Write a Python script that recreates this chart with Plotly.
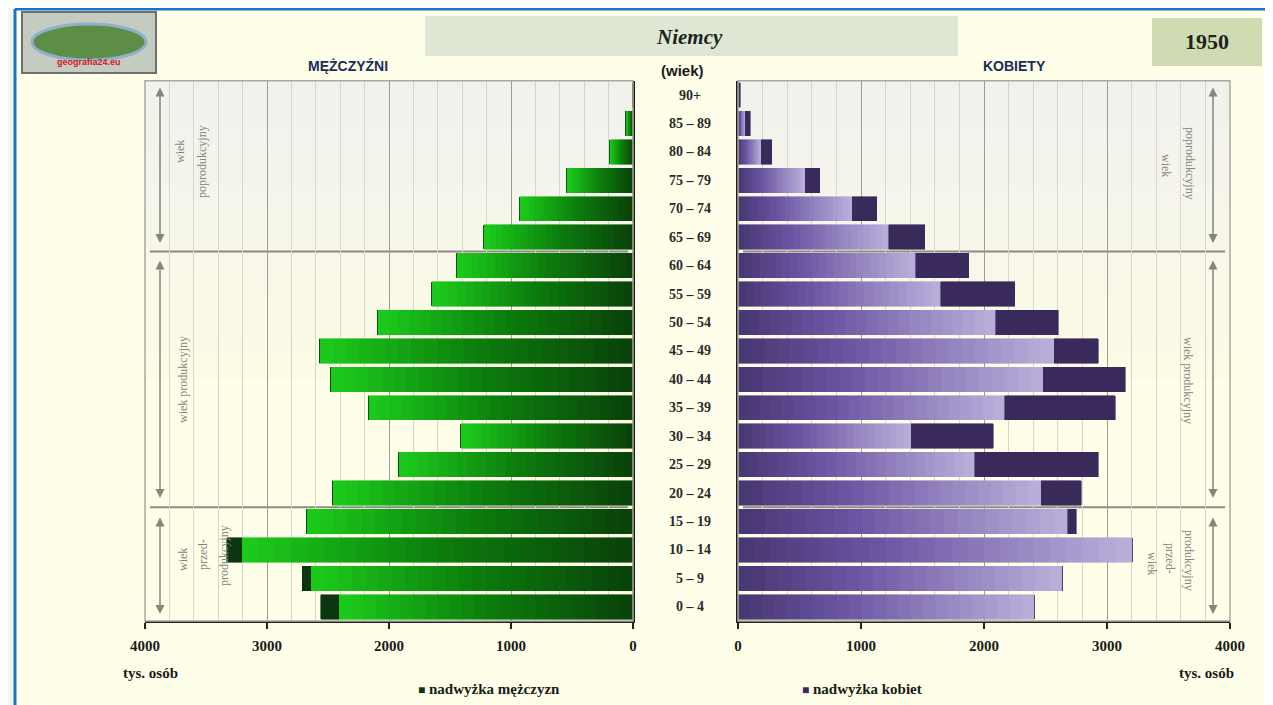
import plotly.graph_objects as go

# --- Data (thousands of people) ---
AGE_GROUPS = ['0 – 4', '5 – 9', '10 – 14', '15 – 19', '20 – 24', '25 – 29', '30 – 34',
              '35 – 39', '40 – 44', '45 – 49', '50 – 54', '55 – 59', '60 – 64', '65 – 69',
              '70 – 74', '75 – 79', '80 – 84', '85 – 89', '90+']
MALES = [2560, 2710, 3330, 2680, 2465, 1925, 1410, 2170, 2480, 2570, 2095, 1650, 1445, 1225,
         930, 545, 190, 60, 8]
FEMALES = [2410, 2640, 3205, 2750, 2790, 2930, 2075, 3065, 3150, 2930, 2605, 2250, 1875, 1520,
           1130, 665, 275, 100, 20]
X_TICKS = [0, 1000, 2000, 3000, 4000]

# the page body keeps an 8px margin, so everything is shifted back by 8px
OFF_X, OFF_Y = 8, 8
W, H = 1273, 705
SERIF = 'Liberation Serif, DejaVu Serif, serif'
SANS = 'Liberation Sans Narrow, Liberation Sans, Arial, sans-serif'


def px(x):
    return (x - OFF_X) / W


def py(y):
    return 1 - (y - OFF_Y) / H


def hex_to_rgb(c):
    c = c.lstrip('#')
    return [int(c[i:i + 2], 16) for i in (0, 2, 4)]


def gradient(stops, t):
    """stops: list of (pos, hex) -> interpolated hex colour at t"""
    for (p0, c0), (p1, c1) in zip(stops[:-1], stops[1:]):
        if p0 <= t <= p1:
            f = (t - p0) / (p1 - p0)
            a, b = hex_to_rgb(c0), hex_to_rgb(c1)
            return '#%02x%02x%02x' % tuple(round(a[i] + (b[i] - a[i]) * f) for i in range(3))
    return stops[-1][1]


def generate_plot():
    rows = list(range(len(AGE_GROUPS)))
    common = [min(m, f) for m, f in zip(MALES, FEMALES)]
    male_surplus = [max(m - f, 0) for m, f in zip(MALES, FEMALES)]
    female_surplus = [max(f - m, 0) for m, f in zip(MALES, FEMALES)]

    male_stops = [(0, '#0a400a'), (0.5, '#0c7e0c'), (1, '#1ccc1c')]
    female_stops = [(0, '#473670'), (0.35, '#6a54a2'), (1, '#bbb0da')]
    n_seg = 24

    fig = go.Figure()

    # --- gradient bars: split the common part into thin stacked slices ---
    for k in range(n_seg):
        t = (k + 0.5) / n_seg
        cm = gradient(male_stops, t)
        cf = gradient(female_stops, t)
        fig.add_trace(go.Bar(
            y=rows, x=[v / n_seg for v in common], orientation='h',
            marker=dict(color=cm, line=dict(color=cm, width=0.6)),
            xaxis='x', yaxis='y', showlegend=False, hoverinfo='skip'))
        fig.add_trace(go.Bar(
            y=rows, x=[v / n_seg for v in common], orientation='h',
            marker=dict(color=cf, line=dict(color=cf, width=0.6)),
            xaxis='x2', yaxis='y2', showlegend=False, hoverinfo='skip'))

    fig.add_trace(go.Bar(
        y=rows, x=male_surplus, orientation='h', name='nadwyżka mężczyzn',
        marker=dict(color='#0b3610', line=dict(color='#0b3610', width=0.6)),
        xaxis='x', yaxis='y', showlegend=False))
    fig.add_trace(go.Bar(
        y=rows, x=female_surplus, orientation='h', name='nadwyżka kobiet',
        marker=dict(color='#3a2a5c', line=dict(color='#3a2a5c', width=0.6)),
        xaxis='x2', yaxis='y2', showlegend=False))

    # --- axes ---
    y_dom = [py(621), py(80.8)]
    xa = dict(
        tickvals=X_TICKS, ticks='outside', ticklen=6, tickwidth=1.5, tickcolor='#222',
        showline=True, linecolor='#222', linewidth=2,
        showgrid=True, gridcolor='#9c9c92', gridwidth=1,
        minor=dict(dtick=200, showgrid=True, gridcolor='#d6d6ca', gridwidth=1, ticks=''),
        tickfont=dict(family=SERIF, size=15, color='#1a1a1a', weight='bold'),
        ticklabelstandoff=4, zeroline=False, fixedrange=True)
    ya = dict(range=[-0.5, len(AGE_GROUPS) - 0.5], domain=y_dom, showticklabels=False,
              ticks='', showgrid=False, zeroline=False, showline=True,
              linecolor='#1a1a1a', linewidth=2)

    fig.update_layout(
        width=W, height=H,
        margin=dict(l=0, r=0, t=0, b=0, autoexpand=False),
        paper_bgcolor='#f4f4f1',
        plot_bgcolor='#fcfbe6',
        barmode='stack', bargap=0.14,
        showlegend=False,
        xaxis=dict(xa, domain=[px(145), px(633)], range=[4000, 0], anchor='y'),
        yaxis=dict(ya, anchor='x', side='right'),
        xaxis2=dict(xa, domain=[px(738), px(1230)], range=[0, 4000], anchor='y2'),
        yaxis2=dict(ya, anchor='x2', side='left'),
    )

    shapes = []
    # page frame and cream background
    shapes.append(dict(type='rect', xref='paper', yref='paper', x0=px(15), x1=px(1268),
                       y0=py(720), y1=py(9), fillcolor='#fefee9', line_width=0, layer='below'))
    blue = '#1a72c8'
    for x0, y0, x1, y1 in [(15, 9, 15, 720), (15, 9, 1268, 9),
                           (1268, 9, 1268, 720)]:
        shapes.append(dict(type='line', xref='paper', yref='paper', x0=px(x0), x1=px(x1),
                           y0=py(y0), y1=py(y1), line=dict(color=blue, width=3)))

    # panel background: soft grey at the top fading into cream
    n_band = 14
    for ax in ['', '2']:
        for i in range(n_band):
            c = gradient([(0, '#f1f1ee'), (1, '#fcfbe6')], i / (n_band - 1))
            top = 1 - i * 0.55 / n_band
            shapes.append(dict(type='rect', xref='x%s domain' % ax, yref='y%s domain' % ax,
                               x0=0, x1=1, y0=top - 0.55 / n_band - 0.002, y1=top,
                               fillcolor=c, line_width=0, layer='below'))
        # dividers between age classes (under the bars)
        for yv in [3.5, 12.5]:
            shapes.append(dict(type='line', xref='x%s domain' % ax, yref='y%s' % ax,
                               x0=0.01, x1=0.99, y0=yv, y1=yv,
                               line=dict(color='#8c8c82', width=2), layer='below'))
        # outer grey panel border
        shapes.append(dict(type='rect', xref='x%s domain' % ax, yref='y%s domain' % ax,
                           x0=0, x1=1, y0=0, y1=1, line=dict(color='#a9a99c', width=1.5),
                           layer='above'))

    # title boxes
    shapes.append(dict(type='rect', xref='paper', yref='paper', x0=px(425), x1=px(958),
                       y0=py(56), y1=py(16), fillcolor='#dde7d3', line_width=0))
    shapes.append(dict(type='rect', xref='paper', yref='paper', x0=px(1152), x1=px(1262),
                       y0=py(66), y1=py(18), fillcolor='#cfdcb1', line_width=0))
    # logo
    shapes.append(dict(type='rect', xref='paper', yref='paper', x0=px(22), x1=px(156),
                       y0=py(73), y1=py(12), fillcolor='#c4ccc2',
                       line=dict(color='#6e6e6e', width=2)))
    shapes.append(dict(type='circle', xref='paper', yref='paper', x0=px(32), x1=px(146),
                       y0=py(60), y1=py(24), fillcolor='#5c8f45',
                       line=dict(color='#8fb0c8', width=3)))
    fig.update_layout(shapes=shapes)

    # --- texts ---
    ann = []

    def text(x, y, s, size=14, family=SANS, color='#1a1a1a', angle=0, yref='paper'):
        ann.append(dict(x=px(x), y=py(y) if yref == 'paper' else y, xref='paper', yref=yref,
                        text=s, showarrow=False, textangle=angle,
                        xanchor='center', yanchor='middle',
                        font=dict(family=family, size=size, color=color)))

    for i, lab in enumerate(AGE_GROUPS):
        text(690, i, '<b>%s</b>' % lab, size=14, family=SERIF, color='#2a2a2a', yref='y')

    text(690, 37, '<b><i>Niemcy</i></b>', size=21, family=SERIF, color='#222')
    text(1207, 42, '<b>1950</b>', size=22, family=SERIF, color='#222')
    text(348, 66, '<b>MĘŻCZYŹNI</b>', size=14, color='#1c2c5c')
    text(1014, 66, '<b>KOBIETY</b>', size=14, color='#1c2c5c')
    text(682, 70, '<b>(wiek)</b>', size=15, color='#1a1a1a')
    text(150, 673, '<b>tys. osób</b>', size=15, family=SERIF)
    text(1206, 673, '<b>tys. osób</b>', size=15, family=SERIF)
    text(489, 689, '<b><span style="color:#0b3610;font-size:12px">■</span> nadwyżka mężczyzn</b>',
         size=15, family=SERIF)
    text(862, 689, '<b><span style="color:#3a2a5c;font-size:12px">■</span> nadwyżka kobiet</b>',
         size=15, family=SERIF)
    text(89, 62, '<b>geografia24.eu</b>', size=9, color='#d42020')

    grey = '#85857c'
    # left side age-class descriptions (bottom-to-top)
    text(180, 152, 'wiek', size=12, family=SERIF, color=grey, angle=-90)
    text(202, 162, 'poprodukcyjny', size=12, family=SERIF, color=grey, angle=-90)
    text(183, 380, 'wiek produkcyjny', size=12, family=SERIF, color=grey, angle=-90)
    text(183, 560, 'wiek', size=12, family=SERIF, color=grey, angle=-90)
    text(203, 555, 'przed-', size=12, family=SERIF, color=grey, angle=-90)
    text(224, 555, 'produkcyjny', size=12, family=SERIF, color=grey, angle=-90)
    # right side (top-to-bottom)
    text(1166, 165, 'wiek', size=12, family=SERIF, color=grey, angle=90)
    text(1190, 163, 'poprodukcyjny', size=12, family=SERIF, color=grey, angle=90)
    text(1188, 380, 'wiek produkcyjny', size=12, family=SERIF, color=grey, angle=90)
    text(1152, 563, 'wiek', size=12, family=SERIF, color=grey, angle=90)
    text(1170, 558, 'przed-', size=12, family=SERIF, color=grey, angle=90)
    text(1189, 560, 'produkcyjny', size=12, family=SERIF, color=grey, angle=90)

    # double-headed arrows
    for x in [160, 1213]:
        for y0, y1 in [(86, 243), (259, 498), (516, 614)]:
            ann.append(dict(x=px(x), y=py(y1), xref='paper', yref='paper',
                            ax=0, ay=-(y1 - y0), text='', showarrow=True,
                            arrowhead=2, startarrowhead=2, arrowside='end+start',
                            arrowsize=1.2, startarrowsize=1.2, arrowwidth=1.5,
                            arrowcolor=grey))

    fig.update_layout(annotations=ann)

    fig.write_html('out.html')


if __name__ == '__main__':
    generate_plot()
